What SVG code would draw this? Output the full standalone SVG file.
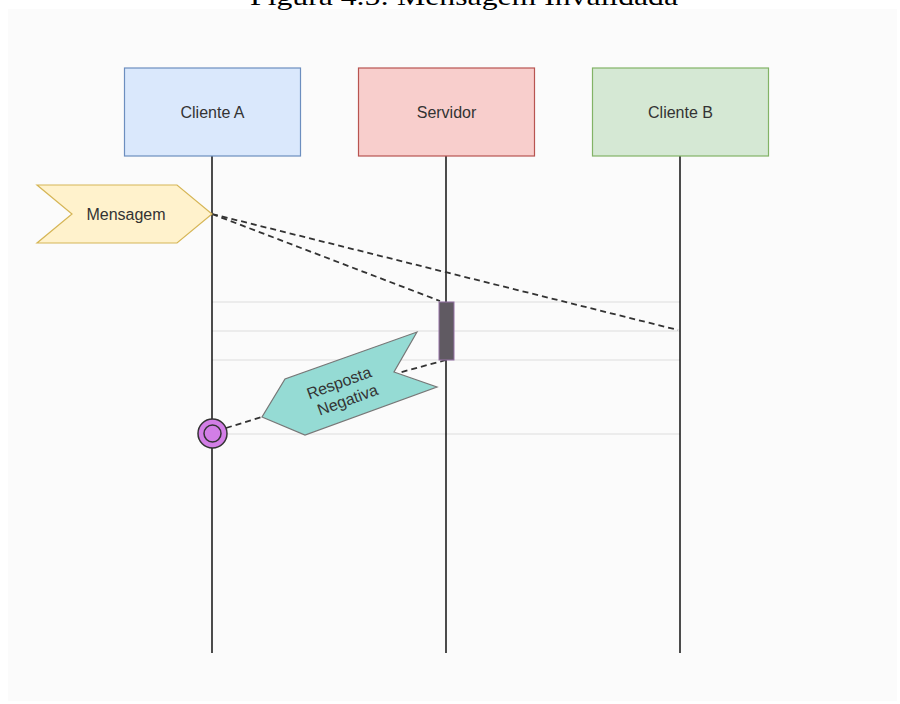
<svg xmlns="http://www.w3.org/2000/svg" width="900" height="704" viewBox="0 0 900 704">
  <style>
    .lbl { font-family: "Liberation Sans", Arial, sans-serif; font-size: 16px; fill: #333333; text-anchor: middle; dominant-baseline: central; }
    .life { stroke: #000000; stroke-width: 1.4; fill: none; }
    .guide { stroke: #dddddd; stroke-width: 1.2; fill: none; }
    .msg { stroke: #333333; stroke-width: 1.8; stroke-dasharray: 6 4; fill: none; }
  </style>
  <rect x="0" y="0" width="900" height="704" fill="#ffffff"/>
  <rect x="8" y="9" width="889" height="692" fill="#fbfbfb"/>
  <!-- caption, partly cut off at the top edge -->
  <text x="464" y="5" font-family="'Liberation Serif', 'Times New Roman', serif" font-size="26" fill="#000000" text-anchor="middle" textLength="428" lengthAdjust="spacingAndGlyphs">Figura 4.5: Mensagem Invalidada</text>

  <!-- guide rows -->
  <g id="guides">
    <line class="guide" x1="212" y1="302" x2="680" y2="302"/>
    <line class="guide" x1="212" y1="331" x2="680" y2="331"/>
    <line class="guide" x1="212" y1="360" x2="680" y2="360"/>
    <line class="guide" x1="226" y1="434" x2="680" y2="434"/>
  </g>

  <!-- lifelines -->
  <g id="lifelines">
    <line class="life" x1="212" y1="156" x2="212" y2="653"/>
    <line class="life" x1="446" y1="156" x2="446" y2="653"/>
    <line class="life" x1="680" y1="156" x2="680" y2="653"/>
  </g>

  <g id="connectors">
    <line class="msg" x1="212" y1="214" x2="440" y2="301"/>
    <line class="msg" x1="212" y1="214" x2="678" y2="330"/>
    <line class="msg" x1="446" y1="360" x2="398" y2="373"/>
    <line class="msg" x1="226" y1="428" x2="262" y2="417"/>
  </g>

  <g id="cliente-a">
    <rect x="124.5" y="68" width="176" height="88" fill="#dae8fc" stroke="#6c8ebf" stroke-width="1.2"/>
    <text class="lbl" x="212.5" y="112">Cliente A</text>
  </g>
  <g id="servidor">
    <rect x="358.5" y="68" width="176" height="88" fill="#f8cecc" stroke="#b85450" stroke-width="1.2"/>
    <text class="lbl" x="446.5" y="112">Servidor</text>
  </g>
  <g id="cliente-b">
    <rect x="592.5" y="68" width="176" height="88" fill="#d5e8d4" stroke="#82b366" stroke-width="1.2"/>
    <text class="lbl" x="680.5" y="112">Cliente B</text>
  </g>

  <g id="mensagem">
    <polygon points="37,185 177,185 212,214 177,243 37,243 72,214" fill="#fff2cc" stroke="#d6b656" stroke-width="1.2"/>
    <text class="lbl" x="126" y="214">Mensagem</text>
  </g>

  <g id="activation">
    <rect x="439" y="302" width="15" height="58" fill="#605a62" stroke="#9673a6" stroke-width="1"/>
  </g>

  <g id="resposta-negativa">
    <polygon points="417,332 394,372 437,387 305,435 262,417 285,379" fill="#95dbd4" stroke="#777777" stroke-width="1.2"/>
    <text class="lbl" transform="translate(344,390) rotate(-20)">
      <tspan x="0" y="-9">Resposta</tspan>
      <tspan x="0" y="10">Negativa</tspan>
    </text>
  </g>

  <g id="fim">
    <circle cx="212.5" cy="433.5" r="14.5" fill="#d27ee6" stroke="#333333" stroke-width="1.5"/>
    <circle cx="212.5" cy="433.5" r="8.5" fill="#d27ee6" stroke="#333333" stroke-width="1.5"/>
  </g>
</svg>
